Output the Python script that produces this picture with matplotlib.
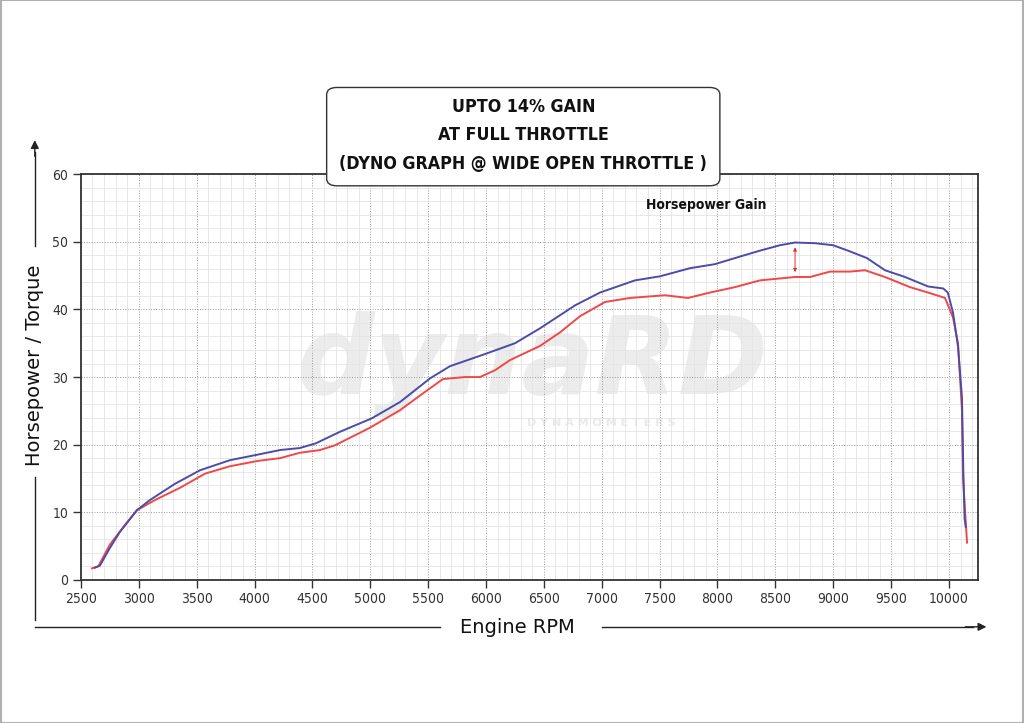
import matplotlib
matplotlib.use('Agg')
import matplotlib.pyplot as plt
from matplotlib.patches import FancyBboxPatch, Rectangle
from matplotlib.ticker import MultipleLocator

# tuned (blue) run
rpm_tuned = [2621, 2664, 2750, 2837, 2984, 3096, 3312, 3528, 3787, 4021, 4220, 4392,
             4530, 4738, 5014, 5257, 5516, 5688, 5991, 6250, 6466, 6769, 6985, 7287,
             7503, 7762, 7978, 8151, 8367, 8540, 8670, 8842, 8998, 9127, 9291, 9447,
             9620, 9819, 9950, 9990, 10035, 10078, 10112, 10124, 10135, 10145]
hp_tuned = [1.8, 2.1, 4.7, 7.1, 10.3, 11.8, 14.2, 16.2, 17.7, 18.5, 19.2, 19.5,
            20.2, 21.9, 23.9, 26.3, 29.8, 31.6, 33.4, 35.0, 37.2, 40.6, 42.5, 44.3,
            44.9, 46.1, 46.7, 47.6, 48.7, 49.5, 49.9, 49.8, 49.5, 48.7, 47.6, 45.8,
            44.8, 43.4, 43.1, 42.5, 39.5, 34.5, 27.0, 16.0, 9.0, 7.8]

# stock (red) run
rpm_stock = [2595, 2650, 2750, 2880, 2984, 3139, 3355, 3571, 3787, 4030, 4220, 4392,
             4565, 4695, 4997, 5257, 5473, 5628, 5818, 5948, 6077, 6207, 6466, 6639,
             6812, 7028, 7244, 7546, 7745, 7935, 8151, 8367, 8670, 8800, 8972, 9145,
             9274, 9447, 9663, 9819, 9966, 10035, 10078, 10112, 10121, 10156]
hp_stock = [1.7, 2.0, 5.2, 8.1, 10.3, 11.8, 13.6, 15.7, 16.8, 17.6, 18.0, 18.8,
            19.2, 19.9, 22.5, 25.1, 27.8, 29.7, 30.0, 30.0, 31.0, 32.5, 34.6, 36.6,
            39.0, 41.1, 41.7, 42.1, 41.7, 42.5, 43.3, 44.3, 44.8, 44.8, 45.6, 45.6,
            45.8, 44.8, 43.3, 42.5, 41.7, 38.8, 35.0, 25.1, 15.2, 5.5]

gain_rpm = 8670
gain_lo, gain_hi = 44.8, 49.9

x_ticks = list(range(2500, 10001, 500))
y_ticks = list(range(0, 61, 10))

cond = dict(family='DejaVu Sans', fontstretch='condensed')

fig = plt.figure(figsize=(10.24, 7.23), dpi=100)
ax = fig.add_axes([0.079, 0.198, 0.876, 0.561])

# watermark
ax.text(6400, 32.0, 'dynaRD', fontsize=78, fontweight='bold', fontstyle='italic',
        color='#ececec', ha='center', va='center', zorder=0.5, family='DejaVu Sans')
ax.text(7000, 23.2, 'D Y N A M O M E T E R S', fontsize=8, fontweight='bold',
        color='#eaeaea', ha='center', va='center', zorder=0.5)

ax.plot(rpm_stock, hp_stock, color='#f04848', lw=1.4, zorder=3)
ax.plot(rpm_tuned, hp_tuned, color='#4c4ca8', lw=1.4, zorder=4)

ax.annotate('', xy=(gain_rpm, gain_hi - 0.3), xytext=(gain_rpm, gain_lo + 0.3),
            arrowprops=dict(arrowstyle='<|-|>', color='#e03030', lw=0.7,
                            mutation_scale=5), zorder=5)
ax.text(7900, 55.4, 'Horsepower Gain', fontsize=10, fontweight='bold',
        ha='center', va='center', color='#111111', **cond)

ax.set_xlim(2500, 10250)
ax.set_ylim(0, 60)
ax.set_xticks(x_ticks)
ax.set_yticks(y_ticks)
ax.xaxis.set_minor_locator(MultipleLocator(100))
ax.yaxis.set_minor_locator(MultipleLocator(2))
ax.grid(which='minor', color='#e4e4e4', lw=0.6)
ax.grid(which='major', color='#9a9a9a', lw=0.7, ls=':')
ax.set_axisbelow(True)
ax.tick_params(which='minor', length=0)
ax.tick_params(which='major', length=6, width=1, color='#333333',
               labelsize=10, labelcolor='#333333', pad=3)
for lab in ax.get_xticklabels() + ax.get_yticklabels():
    lab.set_family('DejaVu Sans')
    lab.set_fontstretch('condensed')
for sp in ax.spines.values():
    sp.set_color('#333333')
    sp.set_linewidth(1.3)

# axis arrows drawn in figure coordinates
fig.add_artist(plt.Line2D([0.034, 0.034], [0.143, 0.34], color='#222222', lw=1))
fig.add_artist(plt.Line2D([0.034, 0.034], [0.66, 0.79], color='#222222', lw=1))
ax.annotate('', xy=(0.034, 0.81), xytext=(0.034, 0.78), xycoords='figure fraction',
            arrowprops=dict(arrowstyle='-|>', color='#222222', lw=1, mutation_scale=12))
fig.text(0.034, 0.495, 'Horsepower / Torque', rotation=90, ha='center', va='center',
         fontsize=14, color='#111111')
fig.add_artist(plt.Line2D([0.034, 0.43], [0.133, 0.133], color='#222222', lw=1))
fig.add_artist(plt.Line2D([0.588, 0.95], [0.133, 0.133], color='#222222', lw=1))
ax.annotate('', xy=(0.966, 0.133), xytext=(0.94, 0.133), xycoords='figure fraction',
            arrowprops=dict(arrowstyle='-|>', color='#222222', lw=1, mutation_scale=12))
fig.text(0.505, 0.132, 'Engine RPM', ha='center', va='center', fontsize=14,
         color='#111111')

# title box
box = FancyBboxPatch((0.319, 0.743), 0.384, 0.136, transform=fig.transFigure,
                     boxstyle='round,pad=0,rounding_size=0.01', fc='white',
                     ec='#333333', lw=1, zorder=10)
fig.add_artist(box)
fig.text(0.511, 0.813, 'UPTO 14% GAIN\nAT FULL THROTTLE\n(DYNO GRAPH @ WIDE OPEN THROTTLE )',
         ha='center', va='center', fontsize=12.8, fontweight='bold',
         linespacing=1.75, color='#111111', zorder=11, **cond)

# light frame around the picture
fig.add_artist(Rectangle((0.0005, 0.0005), 0.999, 0.999, transform=fig.transFigure,
                         fill=False, ec='#b0b0b0', lw=1.5))

fig.savefig('out.png', dpi=100)
